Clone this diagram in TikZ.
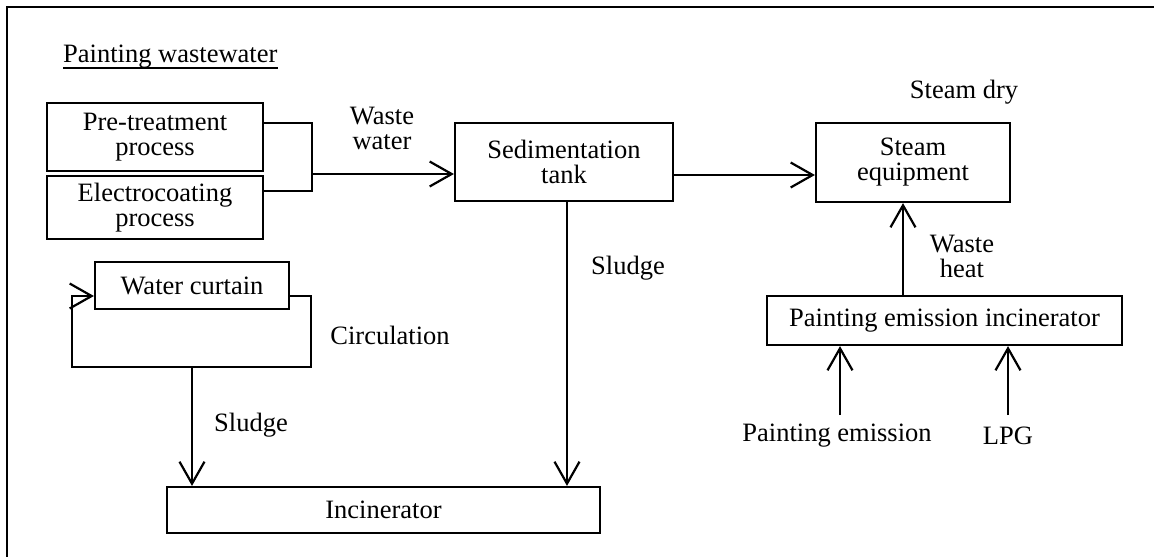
\documentclass[tikz,border=0pt]{standalone}
\usepackage{fontspec}
\setmainfont{Liberation Serif}
\usetikzlibrary{arrows.meta}
\newcommand{\diagfont}{\fontsize{26.5}{25}\selectfont}
\begin{document}
\begin{tikzpicture}[x=1pt,y=-1pt,
  box/.style={draw,line width=2.2pt,inner sep=0pt,align=center,font=\diagfont},
  lbl/.style={inner sep=0pt,align=center,font=\diagfont},
  link/.style={line width=2.2pt},
  flow/.style={line width=2.2pt,-{Straight Barb[length=22pt,width=25pt]}}]
\useasboundingbox (0,0) rectangle (1154,557);

% open frame: top and left edges only
\draw[line width=2.5pt] (1154,7) -- (7,7) -- (7,557);

% title
\node[lbl,anchor=base west] (title) at (63,62) {Painting wastewater};
\draw[line width=2pt] (title.south west) -- (title.south east);

% process boxes
\node[box,minimum width=216pt,minimum height=68pt] (pre) at (155,137) {Pre-treatment\\process};
\node[box,minimum width=216pt,minimum height=63pt] (elec) at (155,207.5) {Electrocoating\\process};
\node[box,minimum width=218pt,minimum height=78pt] (sed) at (564,162) {Sedimentation\\tank};
\node[box,minimum width=194pt,minimum height=79pt] (steam) at (913,162.5) {Steam\\equipment};
\node[box,minimum width=355pt,minimum height=49pt] (pei) at (944.5,320.5) {Painting emission incinerator};
\node[box,minimum width=194pt,minimum height=47pt] (wc) at (192,285.5) {Water curtain};
\node[box,minimum width=433pt,minimum height=46pt] (inc) at (383.5,510) {Incinerator};

% labels
\node[lbl] (ww) at (382,128) {Waste\\water};
\node[lbl] (circ) at (390,335) {Circulation};
\node[lbl] (sl1) at (251,425) {Sludge};
\node[lbl] (sl2) at (628,268) {Sludge};
\node[lbl] (sdry) at (964,92) {Steam dry};
\node[lbl] (wheat) at (962,256) {Waste\\heat};
\node[lbl] (pem) at (837,436) {Painting emission};
\node[lbl] (lpg) at (1008,436) {LPG};

% waste water collection into the sedimentation tank
\coordinate (j) at (312,174);
\draw[link] ([yshift=14pt]pre.east) -| (j) |- ([yshift=16.5pt]elec.east);
\draw[flow] (j) -- (j -| sed.west);

% sedimentation tank to steam equipment
\coordinate (s1) at ([yshift=-13pt]sed.east);
\draw[flow] (s1) -- (s1 -| steam.west);

% waste heat up to the steam equipment
\coordinate (whx) at (903,0);
\draw[flow] (whx |- pei.north) -- (whx |- steam.south);

% feeds into the emission incinerator
\coordinate (pe1) at (840,415);
\coordinate (lp1) at (1008,415);
\draw[flow] (pe1) -- (pe1 |- pei.south);
\draw[flow] (lp1) -- (lp1 |- pei.south);

% water curtain circulation loop
\coordinate (lpR) at (311,367);
\coordinate (lpL) at (72,367);
\draw[flow] ([yshift=-10.5pt]wc.east) -| (lpR) -- (lpL) |- ([yshift=-10.5pt]wc.west);

% sludge to the incinerator
\coordinate (lpB) at (192,367);
\draw[flow] (lpB) -- (lpB |- inc.north);
\coordinate (sdx) at (567,0);
\draw[flow] (sdx |- sed.south) -- (sdx |- inc.north);
\end{tikzpicture}
\end{document}
